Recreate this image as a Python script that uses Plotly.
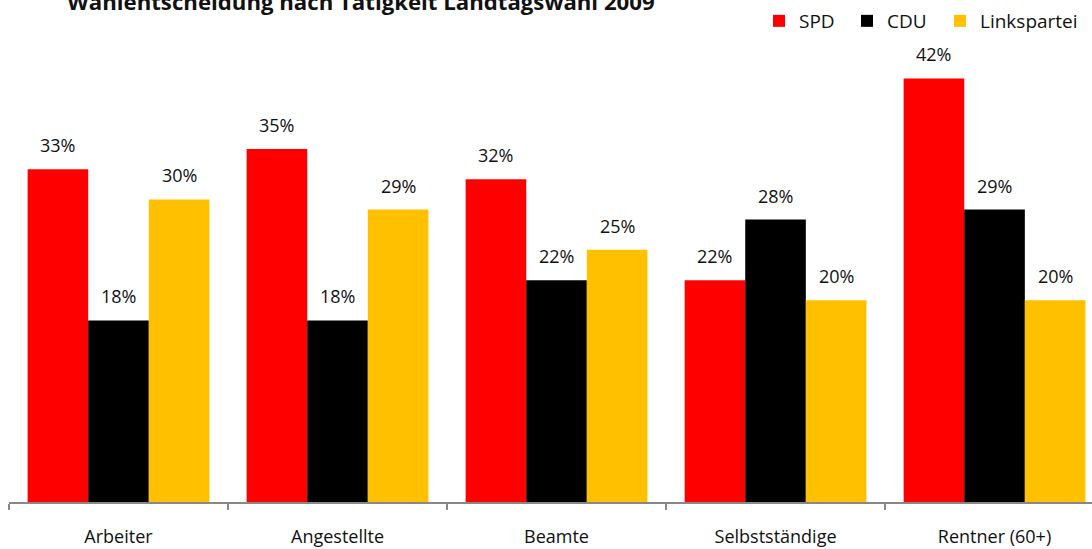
import plotly.graph_objects as go

categories = ["Arbeiter", "Angestellte", "Beamte", "Selbstständige", "Rentner (60+)"]
spd = [33, 35, 32, 22, 42]
cdu = [18, 18, 22, 28, 29]
linke = [30, 29, 25, 20, 20]
series_names = ["SPD", "CDU", "Linkspartei"]
series_values = [spd, cdu, linke]
colors = ["#FF0000", "#000000", "#FFC000"]
title_text = "Wahlentscheidung nach Tätigkeit Landtagswahl 2009"

FONT = "Open Sans"
legend_ids = ["legend", "legend2", "legend3"]
legend_x_px = [759, 847, 940]

fig = go.Figure()
for name, vals, col, lid in zip(series_names, series_values, colors, legend_ids):
    fig.add_trace(go.Bar(x=categories, y=vals, name=name, legend=lid,
                         marker=dict(color=col, line=dict(width=0))))

bar_px = 60.6
annotations = []
for i, vals in enumerate(series_values):
    for c, v in zip(categories, vals):
        annotations.append(dict(
            x=c, y=v, xref="x", yref="y", text=f"{v}%", showarrow=False,
            xshift=(i - 1) * bar_px, yshift=24, yanchor="middle", xanchor="center",
            font=dict(family=FONT, size=18, color="#111111"),
        ))

legend_common = dict(orientation="h", xref="container", yref="container",
                     xanchor="left", y=1 - 2 / 549, yanchor="top",
                     font=dict(family=FONT, size=19, color="#111111"),
                     bgcolor="rgba(0,0,0,0)", itemclick=False, itemdoubleclick=False)

fig.update_layout(
    width=1092, height=549,
    margin=dict(l=9, r=0, t=40, b=47),
    paper_bgcolor="white", plot_bgcolor="white",
    barmode="group", bargap=0.17, bargroupgap=0,
    title=dict(text=title_text, x=361 / 1092, xanchor="center", xref="container",
               y=1 - 2 / 549, yanchor="middle", yref="container",
               font=dict(family=FONT, size=22.2, color="#111111", weight="bold")),
    legend=dict(x=legend_x_px[0] / 1092, **legend_common),
    legend2=dict(x=legend_x_px[1] / 1092, **legend_common),
    legend3=dict(x=legend_x_px[2] / 1092, **legend_common),
    xaxis=dict(range=[-0.5, 4.445], showline=True, linecolor="#888888", linewidth=1.5,
               ticks="outside", tickson="boundaries", ticklen=6, tickcolor="#888888",
               tickwidth=1.5, ticklabelstandoff=18,
               tickfont=dict(family=FONT, size=18, color="#111111"), showgrid=False,
               fixedrange=True),
    yaxis=dict(range=[0, 45.81], visible=False, showgrid=False, zeroline=False, fixedrange=True),
    annotations=annotations,
    showlegend=True,
    hovermode=False,
)

fig.write_html("out.html", config={"displayModeBar": False},
               post_script="document.body.style.margin='0';document.body.style.padding='0';")
